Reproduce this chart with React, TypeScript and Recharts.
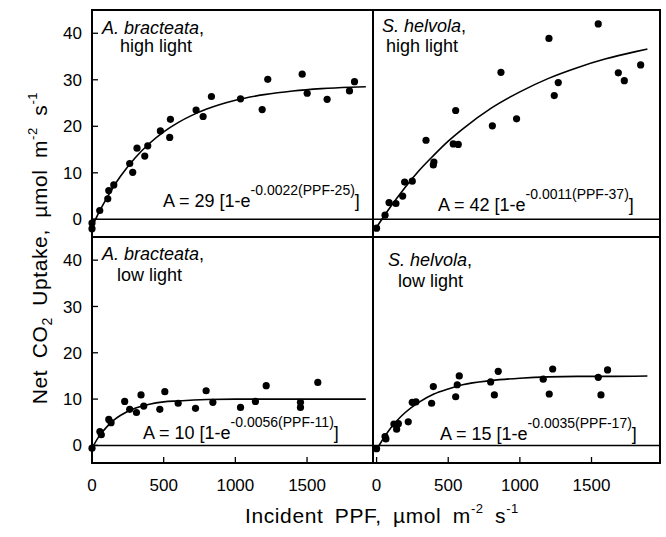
import React from 'react';
import { ComposedChart, Scatter, Line, XAxis, YAxis, ReferenceLine, ReferenceArea } from 'recharts';

const FONT = '"Liberation Sans", Arial, Helvetica, sans-serif';

// axis ticks / domains
const xTicks = [0, 500, 1000, 1500];
const yTicks = [0, 10, 20, 30, 40];
const yTicksInner = [10, 20, 30, 40];
const xDomainLeft: [number, number] = [0, 1960];
const xDomainRight: [number, number] = [-25, 1978];
const yDomain: [number, number] = [-3.8, 45];

// measured points [PPF, A]
const abHighPts = [
  [0, -0.8], [0, -2.0], [54, 1.9], [110, 4.4], [117, 6.2], [152, 7.4], [263, 12.0], [284, 10.1],
  [314, 15.3], [368, 13.6], [389, 15.8], [477, 19.0], [542, 17.6], [547, 21.5], [726, 23.5],
  [775, 22.1], [833, 26.4], [1036, 25.9], [1187, 23.6], [1226, 30.1], [1466, 31.2], [1501, 27.1],
  [1640, 25.8], [1796, 27.6], [1831, 29.6],
];
const shHighPts = [
  [0, -1.9], [59, 0.9], [87, 3.6], [135, 3.4], [182, 5.0], [196, 8.0], [249, 8.2], [345, 17.0],
  [396, 11.7], [400, 12.3], [535, 16.2], [570, 16.1], [552, 23.4], [808, 20.1], [868, 31.6],
  [977, 21.6], [1203, 38.9], [1240, 26.6], [1268, 29.4], [1547, 42.0], [1687, 31.5], [1729, 29.8],
  [1843, 33.2],
];
const abLowPts = [
  [0, -0.6], [55, 3.0], [65, 2.3], [117, 5.6], [133, 4.9], [228, 9.5], [263, 7.8], [310, 7.1],
  [342, 10.9], [361, 8.5], [473, 7.8], [508, 11.6], [601, 9.1], [722, 8.0], [796, 11.8], [843, 9.3],
  [1036, 8.2], [1140, 9.5], [1215, 12.9], [1454, 9.3], [1454, 8.2], [1575, 13.6],
];
const shLowPts = [
  [0, -0.7], [59, 1.9], [65, 1.4], [121, 4.6], [140, 3.5], [152, 4.7], [221, 5.1], [249, 9.3],
  [275, 9.4], [384, 9.1], [396, 12.7], [552, 10.5], [563, 13.1], [577, 15.0], [796, 13.7],
  [822, 10.9], [849, 16.0], [1163, 14.3], [1205, 11.1], [1229, 16.5], [1547, 14.7], [1566, 10.9],
  [1612, 16.3],
];

// fitted curves
const abHighCurve = [
  [0, -1.6], [50, 1.6], [100, 4.4], [150, 7.0], [200, 9.3], [300, 13.2], [400, 16.3], [500, 18.8],
  [600, 20.8], [700, 22.4], [800, 23.7], [1000, 25.6], [1200, 26.8], [1400, 27.6], [1600, 28.1],
  [1800, 28.4], [1910, 28.5],
];
const shHighCurve = [
  [0, -1.7], [100, 2.8], [200, 6.9], [300, 10.6], [400, 13.8], [500, 16.8], [600, 19.4], [800, 23.9],
  [1000, 27.4], [1200, 30.3], [1400, 32.6], [1600, 34.5], [1800, 36.0], [1890, 36.6],
];
const abLowCurve = [
  [0, -0.6], [50, 2.0], [100, 3.9], [150, 5.4], [200, 6.5], [300, 8.0], [400, 8.9], [500, 9.4],
  [600, 9.6], [800, 9.9], [1000, 10.0], [1400, 10.0], [1910, 10.0],
];
const shLowCurve = [
  [0, -0.9], [50, 1.6], [100, 3.8], [150, 5.6], [200, 7.1], [300, 9.4], [400, 11.1], [500, 12.2],
  [600, 13.1], [800, 14.0], [1000, 14.5], [1200, 14.8], [1400, 14.9], [1600, 14.9], [1890, 15.0],
];

const toObj = (arr: number[][]) => arr.map(([x, y]) => ({ x, y }));

const Dot = (props: any) => {
  const { cx, cy } = props;
  if (cx == null || cy == null) return null;
  return <circle cx={cx} cy={cy} r={3.6} fill="#000" />;
};

type PanelProps = {
  pts: number[][];
  curve: number[][];
  xDomain: [number, number];
  plotLeft: number;
  plotTop: number;
  plotW: number;
  plotH: number;
  showY: boolean;
  showX: boolean;
};

const tickStyle = { fill: '#000', fontSize: 17, fontFamily: FONT };

function Panel({ pts, curve, xDomain, plotLeft, plotTop, plotW, plotH, showY, showX }: PanelProps) {
  const leftW = showY ? 50 : 12;
  const bottomH = showX ? 40 : 12;
  const rightW = 12;
  const topM = 12;
  const width = leftW + plotW + rightW;
  const height = topM + plotH + bottomH;
  return (
    <div style={{ position: 'absolute', left: plotLeft - leftW, top: plotTop - topM, width, height }}>
      <ComposedChart width={width} height={height} margin={{ top: topM, right: 0, bottom: 0, left: 0 }}>
        <XAxis
          xAxisId="b"
          type="number"
          dataKey="x"
          domain={xDomain}
          ticks={xTicks}
          interval={0}
          height={bottomH}
          axisLine={false}
          tickSize={-6}
          tickMargin={22}
          tickLine={{ stroke: '#000', strokeWidth: 1.3 }}
          tick={showX ? tickStyle : false}
        />
        <YAxis
          yAxisId="l"
          type="number"
          dataKey="y"
          domain={yDomain}
          ticks={yTicks}
          interval={0}
          width={leftW}
          axisLine={false}
          tickSize={-6}
          tickMargin={16}
          tickLine={{ stroke: '#000', strokeWidth: 1.3 }}
          tick={showY ? tickStyle : false}
        />
        <YAxis
          yAxisId="r"
          orientation="right"
          type="number"
          domain={yDomain}
          ticks={yTicksInner}
          interval={0}
          width={rightW}
          axisLine={false}
          tickSize={-6}
          tickLine={{ stroke: '#000', strokeWidth: 1.3 }}
          tick={false}
        />
        <ReferenceArea
          xAxisId="b"
          yAxisId="l"
          x1={xDomain[0]}
          x2={xDomain[1]}
          y1={yDomain[0]}
          y2={yDomain[1]}
          fill="none"
          fillOpacity={0}
          stroke="#000"
          strokeWidth={2}
          ifOverflow="visible"
        />
        <ReferenceLine xAxisId="b" yAxisId="l" y={0} stroke="#000" strokeWidth={1.5} ifOverflow="visible" />
        <Line
          xAxisId="b"
          yAxisId="l"
          data={toObj(curve)}
          dataKey="y"
          type="monotone"
          dot={false}
          activeDot={false}
          stroke="#000"
          strokeWidth={1.6}
          isAnimationActive={false}
        />
        <Scatter
          xAxisId="b"
          yAxisId="l"
          data={toObj(pts)}
          dataKey="y"
          shape={Dot}
          isAnimationActive={false}
        />
      </ComposedChart>
    </div>
  );
}

function Equation({ x, y, a, k, c }: { x: number; y: number; a: string; k: string; c: string }) {
  return (
    <text x={x} y={y} fontSize={18} fontFamily={FONT} fill="#000">
      {`A = ${a} [1-e`}
      <tspan dy={-12} fontSize={14}>{`-${k}(PPF-${c})`}</tspan>
      <tspan dy={12} fontSize={18}>]</tspan>
    </text>
  );
}

function Label({ x1, y1, x2, y2, species, light }: { x1: number; y1: number; x2: number; y2: number; species: string; light: string }) {
  return (
    <g fontFamily={FONT} fontSize={18} fill="#000">
      <text x={x1} y={y1}>
        <tspan fontStyle="italic">{species}</tspan>,
      </text>
      <text x={x2} y={y2}>{light}</text>
    </g>
  );
}

export default function App() {
  return (
    <div style={{ position: 'absolute', left: 0, top: 0, width: 666, height: 537, background: '#fff', overflow: 'hidden' }}>
      <Panel pts={abHighPts} curve={abHighCurve} xDomain={xDomainLeft} plotLeft={92} plotTop={10} plotW={281} plotH={227} showY={true} showX={false} />
      <Panel pts={shHighPts} curve={shHighCurve} xDomain={xDomainRight} plotLeft={373} plotTop={10} plotW={287} plotH={227} showY={false} showX={false} />
      <Panel pts={abLowPts} curve={abLowCurve} xDomain={xDomainLeft} plotLeft={92} plotTop={237} plotW={281} plotH={226} showY={true} showX={true} />
      <Panel pts={shLowPts} curve={shLowCurve} xDomain={xDomainRight} plotLeft={373} plotTop={237} plotW={287} plotH={226} showY={false} showX={true} />
      <svg width={666} height={537} style={{ position: 'absolute', left: 0, top: 0, pointerEvents: 'none' }}>
        <Label x1={102} y1={34} x2={120} y2={52} species="A. bracteata" light="high light" />
        <Label x1={382} y1={32} x2={386} y2={52} species="S. helvola" light="high light" />
        <Label x1={102} y1={260} x2={117} y2={281} species="A. bracteata" light="low light" />
        <Label x1={388} y1={266} x2={398} y2={287} species="S. helvola" light="low light" />
        <Equation x={163} y={207} a="29" k="0.0022" c="25" />
        <Equation x={438} y={211} a="42" k="0.0011" c="37" />
        <Equation x={143} y={439} a="10" k="0.0056" c="11" />
        <Equation x={440} y={440} a="15" k="0.0035" c="17" />
        <text
          transform="translate(47,248) rotate(-90)"
          textAnchor="middle"
          fontSize={21}
          fontFamily={FONT}
          fill="#000"
          wordSpacing={5}
          letterSpacing={0.6}
        >
          Net CO<tspan dy={5} fontSize={14}>2</tspan>
          <tspan dy={-5}> Uptake, µmol m</tspan>
          <tspan dy={-10} fontSize={13}>-2</tspan>
          <tspan dy={10}> s</tspan>
          <tspan dy={-10} fontSize={13}>-1</tspan>
        </text>
        <text
          x={382}
          y={523}
          textAnchor="middle"
          fontSize={21}
          fontFamily={FONT}
          fill="#000"
          wordSpacing={5}
          letterSpacing={0.6}
        >
          Incident PPF, µmol m<tspan dy={-10} fontSize={13}>-2</tspan>
          <tspan dy={10}> s</tspan>
          <tspan dy={-10} fontSize={13}>-1</tspan>
        </text>
      </svg>
    </div>
  );
}
